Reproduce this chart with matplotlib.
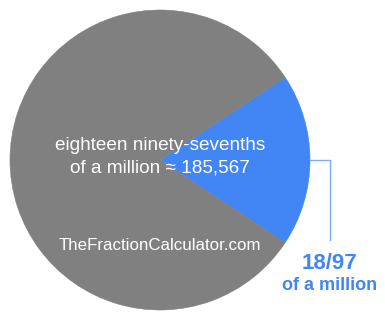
import matplotlib
matplotlib.use("Agg")
import matplotlib.pyplot as plt

numerator = 18
denominator = 97
slice_values = [numerator, denominator - numerator]
slice_colors = ["#4285f4", "#808080"]
center_lines = ["eighteen ninety-sevenths", "of a million \u2248 185,567"]
watermark = "TheFractionCalculator.com"
label_top = "18/97"
label_bottom = "of a million"

plt.rcParams['font.family'] = ['Liberation Sans', 'DejaVu Sans']

fig = plt.figure(figsize=(3.85, 3.2), dpi=100)
ax = fig.add_axes([10/385, 10/320, 300/385, 300/320])
start = -360 * numerator / denominator / 2
wedges, _ = ax.pie(slice_values, colors=slice_colors, startangle=start, radius=1,
                   wedgeprops=dict(linewidth=0))
for w in wedges:
    w.set_edgecolor(w.get_facecolor())
    w.set_linewidth(0.4)
ax.set_xlim(-1, 1)
ax.set_ylim(-1, 1)
ax.set_aspect('equal')
ax.axis('off')

ax.text(0, 0.1, center_lines[0], color='white', fontsize=13.7, ha='center', va='center')
ax.text(0, -0.055, center_lines[1], color='white', fontsize=13.7, ha='center', va='center')
ax.text(0, -0.57, watermark, color='white', fontsize=12.2, ha='center', va='center')

# leader line
ax.plot([1.0, 1.133, 1.133], [0, 0, -0.533], color='#7baaf7', lw=1.0, clip_on=False)
ax.text(1.133, -0.69, label_top, color='#4285f4', fontsize=16, fontweight='bold',
        ha='center', va='center', clip_on=False)
ax.text(1.133, -0.835, label_bottom, color='#4285f4', fontsize=13, fontweight='bold',
        ha='center', va='center', clip_on=False)

fig.savefig("out.png", dpi=100)
